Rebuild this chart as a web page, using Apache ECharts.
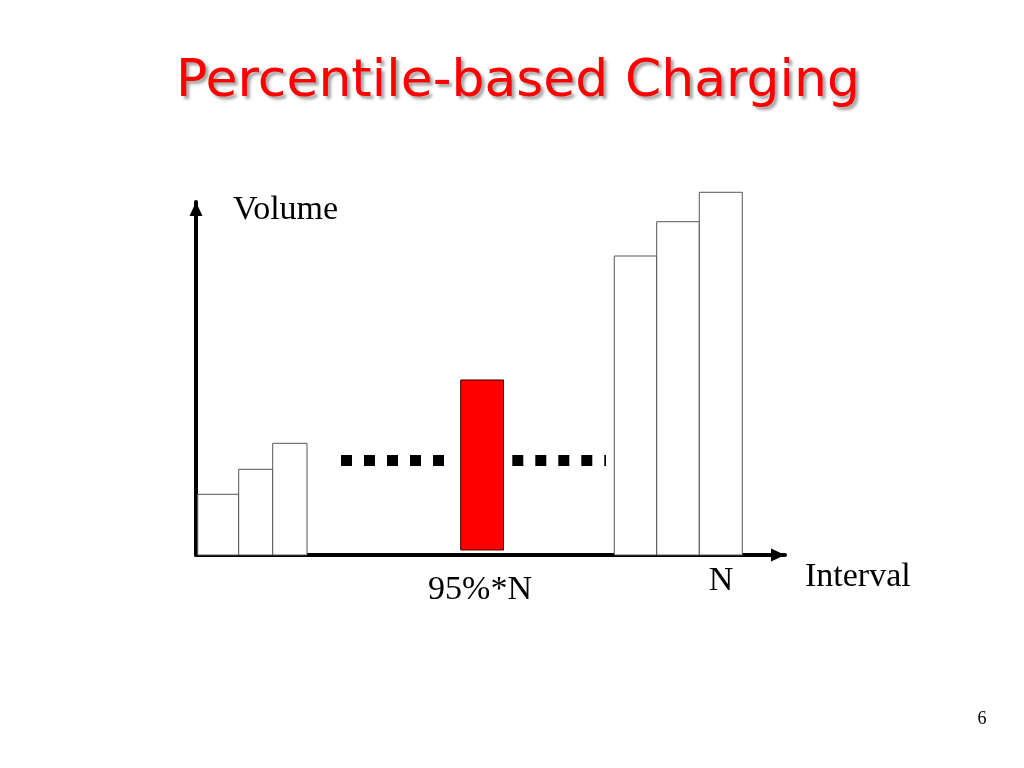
<!DOCTYPE html>
<html>
<head>
<meta charset="utf-8">
<script src="https://cdn.jsdelivr.net/npm/echarts@6/dist/echarts.min.js"></script>
<style>
html,body{margin:0;padding:0;background:#fff;}
#main{width:1024px;height:768px;}
</style>
</head>
<body>
<div id="main"></div>
<script>
// Interval boundaries (abstract interval units) and volumes
const barStart = [0.29, 7.25, 13.02, 44.94, 71.02, 78.22, 85.45];
const barEnd   = [7.25, 13.02, 18.85, 52.21, 78.22, 85.45, 92.75];
const barBase  = [0, 0, 0, 1.42, 0, 0, 0];
const volumes  = [17.2, 24.28, 31.64, 49.58, 84.7, 94.42, 102.75];
const highlighted = [false, false, false, true, false, false, false];
// dotted "..." segments: [x, volume level]
const dotsLeft  = [[24.62, 26.77], [42.11, 26.77]];
const dotsRight = [[53.70, 26.77], [69.61, 26.77]];
const titleText = 'Percentile-based Charging';
const yName = 'Volume';
const xName = 'Interval';
const markerLabels = ['95%*N', 'N'];
const pageNo = '6';

const barData = barStart.map((s, i) => [s, barEnd[i], volumes[i], barBase[i], highlighted[i] ? 1 : 0]);

const chart = echarts.init(document.getElementById('main'), null, {renderer: 'canvas'});
const serif = '"Liberation Serif", "Times New Roman", serif';

chart.setOption({
  backgroundColor: '#ffffff',
  animation: false,
  grid: {left: 196, top: 202, width: 589, height: 353},
  xAxis: {
    type: 'value', min: 0, max: 100,
    axisLine: {show: true, symbol: ['none', 'triangle'], symbolSize: [13, 14], symbolOffset: [0, -7],
      lineStyle: {color: '#000', width: 4}},
    axisTick: {show: false}, axisLabel: {show: false}, splitLine: {show: false}
  },
  yAxis: {
    type: 'value', min: 0, max: 100,
    axisLine: {show: true, symbol: ['none', 'triangle'], symbolSize: [13, 14], symbolOffset: [0, -7],
      lineStyle: {color: '#000', width: 4}},
    axisTick: {show: false}, axisLabel: {show: false}, splitLine: {show: false}
  },
  series: [
    {
      type: 'custom',
      clip: false,
      z: 1,
      data: barData,
      renderItem: function (params, api) {
        const p0 = api.coord([api.value(0), api.value(3)]);
        const p1 = api.coord([api.value(1), api.value(2)]);
        const hl = api.value(4) === 1;
        return {
          type: 'rect',
          shape: {x: p0[0], y: p1[1], width: p1[0] - p0[0], height: p0[1] - p1[1]},
          style: {
            fill: hl ? '#ff0000' : '#ffffff',
            stroke: hl ? '#3a0000' : '#555555',
            lineWidth: 1
          }
        };
      }
    },
    {
      type: 'line', data: dotsLeft, symbol: 'none', z: 2,
      lineStyle: {color: '#000', width: 11, type: [11, 12], cap: 'butt'}
    },
    {
      type: 'line', data: dotsRight, symbol: 'none', z: 2,
      lineStyle: {color: '#000', width: 11, type: [11, 12], cap: 'butt'}
    }
  ],
  graphic: [
    {type: 'text', x: 518, y: 82, z: 10,
      style: {text: titleText, fill: '#ff0000', align: 'center', verticalAlign: 'middle',
        font: 'normal 52px "Comic Sans MS", "DejaVu Sans", sans-serif',
        textShadowColor: 'rgba(90,90,90,0.55)', textShadowOffsetX: 3, textShadowOffsetY: 3, textShadowBlur: 3}},
    {type: 'text', x: 233, y: 210, z: 10,
      style: {text: yName, fill: '#000', align: 'left', verticalAlign: 'middle', font: '34px ' + serif}},
    {type: 'text', x: 805, y: 577, z: 10,
      style: {text: xName, fill: '#000', align: 'left', verticalAlign: 'middle', font: '34px ' + serif}},
    {type: 'text', x: 480, y: 590, z: 10,
      style: {text: markerLabels[0], fill: '#000', align: 'center', verticalAlign: 'middle', font: '34px ' + serif}},
    {type: 'text', x: 721, y: 581, z: 10,
      style: {text: markerLabels[1], fill: '#000', align: 'center', verticalAlign: 'middle', font: '34px ' + serif}},
    {type: 'text', x: 982, y: 719, z: 10,
      style: {text: pageNo, fill: '#000', align: 'center', verticalAlign: 'middle', font: '18px ' + serif}}
  ]
});
</script>
</body>
</html>
